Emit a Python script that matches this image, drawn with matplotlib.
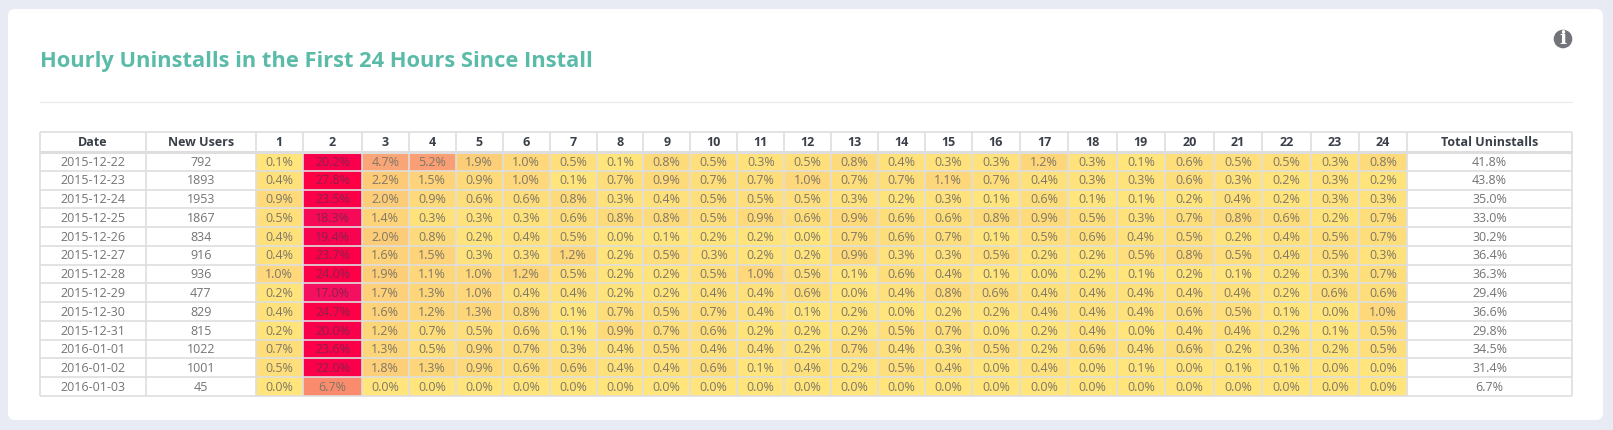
import numpy as np
import matplotlib
matplotlib.use("Agg")
import matplotlib.pyplot as plt
from matplotlib.colors import LinearSegmentedColormap, Normalize
from matplotlib.patches import FancyBboxPatch, Circle

plt.rcParams['font.family'] = ['Open Sans', 'DejaVu Sans']

title = "Hourly Uninstalls in the First 24 Hours Since Install"
dates = ["2015-12-22", "2015-12-23", "2015-12-24", "2015-12-25", "2015-12-26", "2015-12-27", "2015-12-28",
         "2015-12-29", "2015-12-30", "2015-12-31", "2016-01-01", "2016-01-02", "2016-01-03"]
new_users = [792, 1893, 1953, 1867, 834, 916, 936, 477, 829, 815, 1022, 1001, 45]
hours = [str(h) for h in range(1, 25)]
totals = [41.8, 43.8, 35.0, 33.0, 30.2, 36.4, 36.3, 29.4, 36.6, 29.8, 34.5, 31.4, 6.7]
r_1222 = [0.1, 20.2, 4.7, 5.2, 1.9, 1.0, 0.5, 0.1, 0.8, 0.5, 0.3, 0.5, 0.8, 0.4, 0.3, 0.3, 1.2, 0.3, 0.1, 0.6, 0.5, 0.5, 0.3, 0.8]
r_1223 = [0.4, 27.8, 2.2, 1.5, 0.9, 1.0, 0.1, 0.7, 0.9, 0.7, 0.7, 1.0, 0.7, 0.7, 1.1, 0.7, 0.4, 0.3, 0.3, 0.6, 0.3, 0.2, 0.3, 0.2]
r_1224 = [0.9, 23.5, 2.0, 0.9, 0.6, 0.6, 0.8, 0.3, 0.4, 0.5, 0.5, 0.5, 0.3, 0.2, 0.3, 0.1, 0.6, 0.1, 0.1, 0.2, 0.4, 0.2, 0.3, 0.3]
r_1225 = [0.5, 18.3, 1.4, 0.3, 0.3, 0.3, 0.6, 0.8, 0.8, 0.5, 0.9, 0.6, 0.9, 0.6, 0.6, 0.8, 0.9, 0.5, 0.3, 0.7, 0.8, 0.6, 0.2, 0.7]
r_1226 = [0.4, 19.4, 2.0, 0.8, 0.2, 0.4, 0.5, 0.0, 0.1, 0.2, 0.2, 0.0, 0.7, 0.6, 0.7, 0.1, 0.5, 0.6, 0.4, 0.5, 0.2, 0.4, 0.5, 0.7]
r_1227 = [0.4, 23.7, 1.6, 1.5, 0.3, 0.3, 1.2, 0.2, 0.5, 0.3, 0.2, 0.2, 0.9, 0.3, 0.3, 0.5, 0.2, 0.2, 0.5, 0.8, 0.5, 0.4, 0.5, 0.3]
r_1228 = [1.0, 24.0, 1.9, 1.1, 1.0, 1.2, 0.5, 0.2, 0.2, 0.5, 1.0, 0.5, 0.1, 0.6, 0.4, 0.1, 0.0, 0.2, 0.1, 0.2, 0.1, 0.2, 0.3, 0.7]
r_1229 = [0.2, 17.0, 1.7, 1.3, 1.0, 0.4, 0.4, 0.2, 0.2, 0.4, 0.4, 0.6, 0.0, 0.4, 0.8, 0.6, 0.4, 0.4, 0.4, 0.4, 0.4, 0.2, 0.6, 0.6]
r_1230 = [0.4, 24.7, 1.6, 1.2, 1.3, 0.8, 0.1, 0.7, 0.5, 0.7, 0.4, 0.1, 0.2, 0.0, 0.2, 0.2, 0.4, 0.4, 0.4, 0.6, 0.5, 0.1, 0.0, 1.0]
r_1231 = [0.2, 20.0, 1.2, 0.7, 0.5, 0.6, 0.1, 0.9, 0.7, 0.6, 0.2, 0.2, 0.2, 0.5, 0.7, 0.0, 0.2, 0.4, 0.0, 0.4, 0.4, 0.2, 0.1, 0.5]
r_0101 = [0.7, 23.6, 1.3, 0.5, 0.9, 0.7, 0.3, 0.4, 0.5, 0.4, 0.4, 0.2, 0.7, 0.4, 0.3, 0.5, 0.2, 0.6, 0.4, 0.6, 0.2, 0.3, 0.2, 0.5]
r_0102 = [0.5, 22.0, 1.8, 1.3, 0.9, 0.6, 0.6, 0.4, 0.4, 0.6, 0.1, 0.4, 0.2, 0.5, 0.4, 0.0, 0.4, 0.0, 0.1, 0.0, 0.1, 0.1, 0.0, 0.0]
r_0103 = [0.0, 6.7] + [0.0] * 22
matrix = np.array([r_1222, r_1223, r_1224, r_1225, r_1226, r_1227, r_1228, r_1229, r_1230, r_1231, r_0101, r_0102, r_0103])

# Layout, in pixels of the 1613x430 canvas
W, H = 1613, 430
x_edges = np.array([40, 146, 255.5, 303, 362, 408.5, 455.5, 502.5, 549.7, 596.7, 643.3, 690.3, 737.3, 784.3, 831,
                    877.7, 924.7, 971.7, 1020, 1068.3, 1116.7, 1165, 1213.7, 1262, 1310.7, 1359, 1407.3, 1572])
head_top, head_bot, row_h = 132, 152, 18.77
y_edges = head_bot + row_h * np.arange(len(dates) + 1)
GRID = '#DEDEDE'
TXT = '#747474'
HEAD = '#3A4049'
FS = 9.0

fig = plt.figure(figsize=(W / 100, H / 100), dpi=100, facecolor='#E8EBF3')
ax = fig.add_axes([0, 0, 1, 1])
ax.set_xlim(0, W)
ax.set_ylim(H, 0)
ax.axis('off')

ax.add_patch(FancyBboxPatch((12, 13), 1587, 403, boxstyle='round,pad=4,rounding_size=7',
                            fc='white', ec='none', zorder=0))
ax.text(39.5, 61.5, title, color='#5BBBA9', fontsize=15.75, fontweight='bold', va='center', ha='left')
ax.plot([39.5, 1572], [102.3, 102.3], color='#EBEBEB', lw=0.9, zorder=1)

# info icon
ax.add_patch(Circle((1563, 39), 9.3, fc='#73737B', ec='none', zorder=2))
ax.text(1563, 39.2, 'i', color='white', fontsize=13.5, fontweight='bold', family='DejaVu Serif',
        ha='center', va='center', zorder=3)

# heat cells
cmap = LinearSegmentedColormap.from_list('uninst', [
    (0.0, '#FFE57C'), (0.036, '#FED87A'), (0.075, '#FDCB78'), (0.17, '#FAA477'), (0.24, '#FA8B6D'),
    (0.61, '#F5105F'), (0.72, '#F8004C'), (1.0, '#FF0045')])
ax.pcolormesh(x_edges[2:-1], y_edges, matrix, cmap=cmap, norm=Normalize(0, 27.8), zorder=2)

# grid
ax.hlines(np.r_[head_top, y_edges], x_edges[0], x_edges[-1], color=GRID, lw=1.2, zorder=4)
ax.hlines(head_bot, x_edges[0], x_edges[-1], color=GRID, lw=2.2, zorder=4)
ax.vlines(x_edges, head_top, y_edges[-1], color=GRID, lw=1.2, zorder=4)

# text
headers = ["Date", "New Users"] + hours + ["Total Uninstalls"]
xc = (x_edges[:-1] + x_edges[1:]) / 2
yh = (head_top + head_bot) / 2 + 0.8
for x, s in zip(xc, headers):
    ax.text(x, yh, s, ha='center', va='center', fontsize=FS, fontweight='bold', color=HEAD, zorder=5)
yc = (y_edges[:-1] + y_edges[1:]) / 2 + 0.7
for i, y in enumerate(yc):
    ax.text(xc[0], y, dates[i], ha='center', va='center', fontsize=FS, color=TXT, zorder=5)
    ax.text(xc[1], y, str(new_users[i]), ha='center', va='center', fontsize=FS, color=TXT, zorder=5)
    ax.text(xc[-1], y, f"{totals[i]:.1f}%", ha='center', va='center', fontsize=FS, color=TXT, zorder=5)
    for j in range(24):
        v = matrix[i, j]
        ax.text(xc[j + 2], y, f"{v:.1f}%", ha='center', va='center', fontsize=FS,
                color='#8E1F4C' if v > 15 else '#7F7765', zorder=5)

fig.savefig('out.png', dpi=100, facecolor=fig.get_facecolor())
